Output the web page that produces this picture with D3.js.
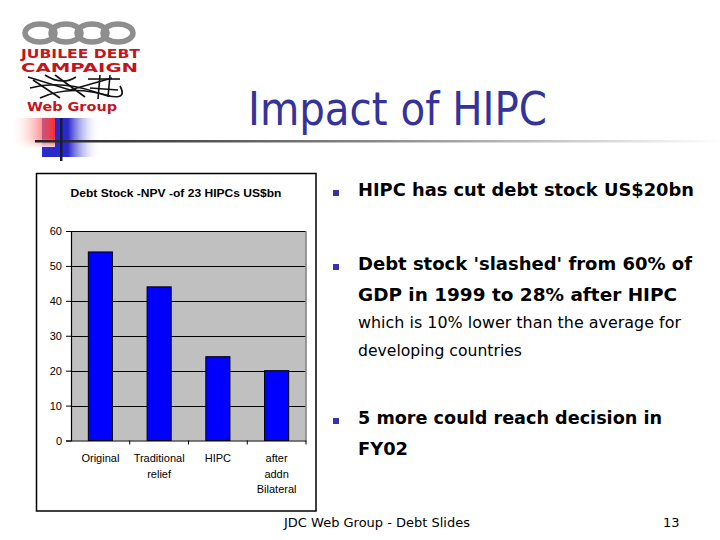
<!DOCTYPE html>
<html><head><meta charset="utf-8">
<script src="https://cdn.jsdelivr.net/npm/d3@7/dist/d3.min.js"></script>
<style>body{margin:0;background:#fff}svg{display:block}</style>
</head><body>
<script>
// ---- data ----
const categories = ["Original", "Traditional relief", "HIPC", "after addn Bilateral"];
const categoryLines = [["Original"], ["Traditional", "relief"], ["HIPC"], ["after", "addn", "Bilateral"]];
const values = [54, 44, 24, 20];
const yTicks = [0, 10, 20, 30, 40, 50, 60];
const chartTitle = "Debt Stock -NPV -of 23 HIPCs US$bn";
const slideTitle = "Impact of HIPC";
const bullets = [
  {lines: [{t: "HIPC has cut debt stock US$20bn", b: true, w: 336}]},
  {lines: [{t: "Debt stock 'slashed' from 60% of", b: true, w: 334},
           {t: "GDP in 1999 to 28% after HIPC", b: true, w: 319},
           {t: "which is 10% lower than the average for", b: false, w: 323},
           {t: "developing countries", b: false, w: 164}]},
  {lines: [{t: "5 more could reach decision in", b: true, w: 304},
           {t: "FY02", b: true, w: 50}]}
];
const footer = "JDC Web Group  - Debt Slides";
const pageNum = "13";

// ---- drawing ----
const W = 720, H = 540;
const svg = d3.select("body").append("svg").attr("width", W).attr("height", H);
const defs = svg.append("defs");
svg.append("rect").attr("width", W).attr("height", H).attr("fill", "#fff");

function lg(id, stops, x2 = "100%", y2 = "0%") {
  const g = defs.append("linearGradient").attr("id", id).attr("x1", "0%").attr("y1", "0%").attr("x2", x2).attr("y2", y2);
  stops.forEach(s => g.append("stop").attr("offset", s[0]).attr("stop-color", s[1]).attr("stop-opacity", s[2] == null ? 1 : s[2]));
}
lg("gBlue", [["0%", "#2a2acc"], ["45%", "#2a2acc"], ["100%", "#ffffff", 0]]);
lg("gRed", [["0%", "#ffffff", 0], ["100%", "#ff2a2a"]]);
lg("gRedV", [["0%", "#ffffff", 0], ["70%", "#ffffff", 0], ["100%", "#ffffff", 0.8]], "0%", "100%");
lg("gLine", [["0%", "#222222"], ["50%", "#8a8a8a"], ["100%", "#ffffff"]]);

// decoration
svg.append("rect").attr("x", 42).attr("y", 118).attr("width", 58).attr("height", 39).attr("fill", "url(#gBlue)");
svg.append("rect").attr("x", 10).attr("y", 118).attr("width", 45).attr("height", 29).attr("fill", "url(#gRed)");
svg.append("rect").attr("x", 10).attr("y", 118).attr("width", 45).attr("height", 29).attr("fill", "url(#gRedV)");
svg.append("rect").attr("x", 35).attr("y", 140).attr("width", 685).attr("height", 2.5).attr("fill", "url(#gLine)");
svg.append("rect").attr("x", 60).attr("y", 118).attr("width", 2.5).attr("height", 43).attr("fill", "#1a1a3a");

// logo
const logo = svg.append("g");
[[40, 33], [66, 33], [92, 33], [118, 33]].forEach(c => {
  logo.append("ellipse").attr("cx", c[0]).attr("cy", c[1]).attr("rx", 15).attr("ry", 9)
    .attr("fill", "none").attr("stroke", "#8e8e8e").attr("stroke-width", 5.5);
});
logo.append("text").attr("x", 21).attr("y", 58).attr("font-family", "DejaVu Sans").attr("font-weight", "bold")
  .attr("font-size", 12).attr("fill", "#c4141e").attr("textLength", 119).attr("lengthAdjust", "spacingAndGlyphs").text("JUBILEE DEBT");
logo.append("text").attr("x", 21).attr("y", 72).attr("font-family", "DejaVu Sans").attr("font-weight", "bold")
  .attr("font-size", 12).attr("fill", "#c4141e").attr("textLength", 117).attr("lengthAdjust", "spacingAndGlyphs").text("CAMPAIGN");
const web = logo.append("g").attr("stroke", "#111").attr("stroke-width", 1.6).attr("fill", "none");
["M28,77 L70,90 L112,78", "M30,88 Q60,80 95,92 T120,86", "M40,98 Q70,84 110,96", "M33,80 L60,98", "M55,75 L85,97",
 "M100,75 L98,99", "M110,75 L108,97", "M88,79 L120,79", "M90,88 L118,90", "M45,75 Q62,86 76,77"]
  .forEach(d => web.append("path").attr("d", d));
logo.append("text").attr("x", 27).attr("y", 111).attr("font-family", "DejaVu Sans").attr("font-weight", "bold")
  .attr("font-size", 13).attr("fill", "#c4141e").attr("textLength", 90).attr("lengthAdjust", "spacingAndGlyphs").text("Web Group");

// slide title
svg.append("text").attr("x", 248).attr("y", 125).attr("font-family", "DejaVu Sans").attr("font-size", 47)
  .attr("fill", "#333399").attr("textLength", 299).attr("lengthAdjust", "spacingAndGlyphs").text(slideTitle);

// chart frame
svg.append("rect").attr("x", 36.5).attr("y", 173.5).attr("width", 279.5).attr("height", 337.5)
  .attr("fill", "#fff").attr("stroke", "#000").attr("stroke-width", 1.5);
svg.append("text").attr("x", 176).attr("y", 197).attr("text-anchor", "middle").attr("font-family", "Liberation Sans, Arial")
  .attr("font-weight", "bold").attr("font-size", 11.5).attr("textLength", 211).attr("lengthAdjust", "spacingAndGlyphs").text(chartTitle);

const plot = {left: 71, right: 306, top: 231, bottom: 440.5};
const x = d3.scaleBand().domain(categories).range([plot.left, plot.right]).padding(0);
const y = d3.scaleLinear().domain([0, 60]).range([plot.bottom, plot.top]);
const barW = x.bandwidth() * 0.41;

svg.append("rect").attr("x", plot.left).attr("y", plot.top).attr("width", plot.right - plot.left)
  .attr("height", plot.bottom - plot.top).attr("fill", "#c0c0c0");
svg.append("g").selectAll("line").data(yTicks.filter(v => v > 0)).join("line")
  .attr("x1", plot.left).attr("x2", plot.right).attr("y1", d => Math.round(y(d)) + 0.5).attr("y2", d => Math.round(y(d)) + 0.5)
  .attr("stroke", "#000").attr("stroke-width", 1);
svg.append("line").attr("x1", plot.right).attr("x2", plot.right).attr("y1", plot.top).attr("y2", plot.bottom)
  .attr("stroke", "#808080").attr("stroke-width", 1.5);
svg.append("g").selectAll("rect").data(values).join("rect")
  .attr("x", (d, i) => x(categories[i]) + (x.bandwidth() - barW) / 2)
  .attr("y", d => y(d)).attr("width", barW).attr("height", d => y(0) - y(d))
  .attr("fill", "#0000ff").attr("stroke", "#000").attr("stroke-width", 1);

const yAxis = svg.append("g").attr("transform", `translate(${plot.left},0)`)
  .call(d3.axisLeft(y).tickValues(yTicks).tickSize(5).tickPadding(4));
yAxis.select(".domain").attr("stroke", "#000").attr("stroke-width", 1.2);
yAxis.selectAll(".tick line").attr("stroke", "#000");
yAxis.selectAll("text").attr("font-family", "Liberation Sans, Arial").attr("font-size", 11).attr("fill", "#000");

const xAxis = svg.append("g").attr("transform", `translate(0,${plot.bottom})`)
  .call(d3.axisBottom(x).tickSize(0).tickFormat(""));
xAxis.select(".domain").attr("stroke", "#000").attr("stroke-width", 1.2);
svg.append("g").selectAll("line").data(categories).join("line")
  .attr("x1", d => x(d) + x.bandwidth()).attr("x2", d => x(d) + x.bandwidth())
  .attr("y1", plot.bottom).attr("y2", plot.bottom + 4).attr("stroke", "#000");
const xl = svg.append("g").selectAll("text").data(categories).join("text")
  .attr("text-anchor", "middle").attr("font-family", "Liberation Sans, Arial").attr("font-size", 11).attr("fill", "#000");
xl.each(function (d, i) {
  d3.select(this).selectAll("tspan").data(categoryLines[i]).join("tspan")
    .attr("x", x(d) + x.bandwidth() / 2).attr("y", (t, j) => 462 + j * 15.5).text(t => t);
});

// bullets
const bulletY = [196, 270, 424];
bullets.forEach((b, i) => {
  const by = bulletY[i];
  svg.append("rect").attr("x", 333).attr("y", by - 6).attr("width", 6).attr("height", 6).attr("fill", "#3535a8");
  b.lines.forEach((ln, j) => {
    const yy = i === 1 ? by + [0, 31, 58, 86][j] : by + j * 31;
    svg.append("text").attr("x", 358).attr("y", yy).attr("font-family", "DejaVu Sans")
      .attr("font-weight", ln.b ? "bold" : "normal").attr("font-size", ln.b ? 18 : 15.5).attr("fill", "#000")
      .attr("textLength", ln.w).attr("lengthAdjust", "spacingAndGlyphs").text(ln.t);
  });
});

// footer
svg.append("text").attr("x", 284).attr("y", 527).attr("font-family", "DejaVu Sans").attr("font-size", 13)
  .attr("textLength", 186).attr("lengthAdjust", "spacingAndGlyphs").attr("fill", "#000").text(footer);
svg.append("text").attr("x", 663).attr("y", 527).attr("font-family", "DejaVu Sans").attr("font-size", 13)
  .attr("fill", "#000").text(pageNum);
</script>
</body></html>
